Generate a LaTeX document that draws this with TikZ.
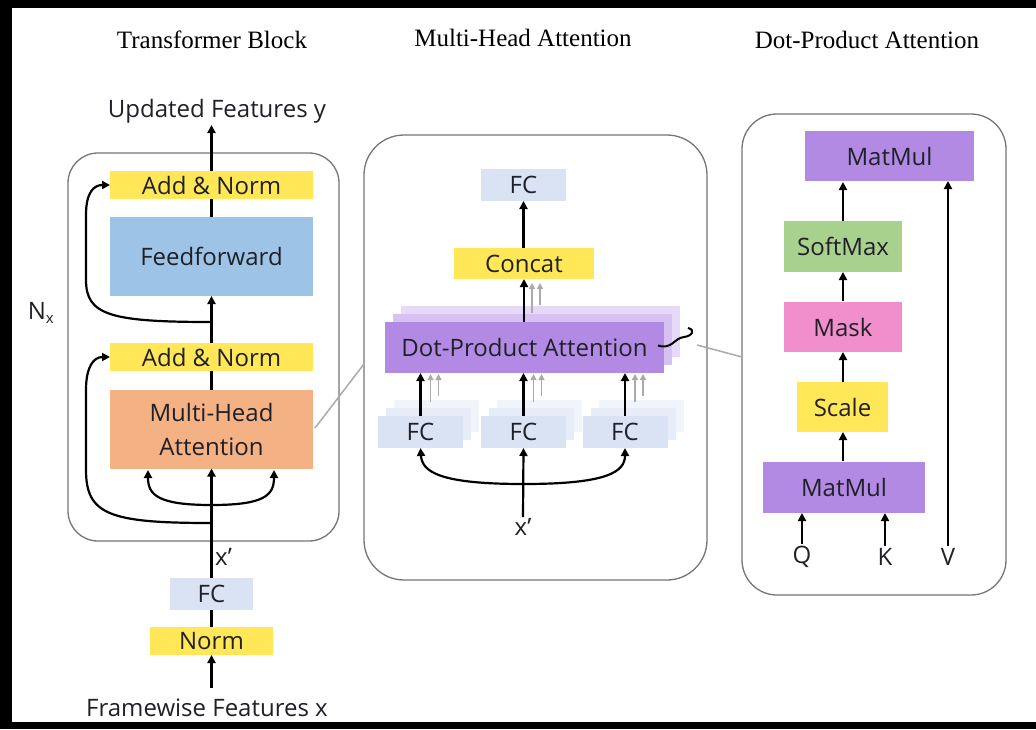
\documentclass[tikz,border=0pt]{standalone}
\usepackage{fontspec}
\setmainfont{Open Sans}
\newfontfamily\titlefont{Liberation Serif}
\usetikzlibrary{arrows.meta}
\definecolor{cyel}{RGB}{255,231,88}
\definecolor{cblue}{RGB}{157,195,230}
\definecolor{corange}{RGB}{244,177,131}
\definecolor{cfc}{RGB}{218,227,243}
\definecolor{cfcA}{RGB}{230,236,248}
\definecolor{cfcB}{RGB}{240,244,251}
\definecolor{cpur}{RGB}{178,138,228}
\definecolor{cpurA}{RGB}{214,194,242}
\definecolor{cpurB}{RGB}{230,218,248}
\definecolor{cgreen}{RGB}{169,209,142}
\definecolor{cpink}{RGB}{241,143,204}
\definecolor{cgray}{RGB}{118,118,118}
\definecolor{cghost}{RGB}{170,170,170}
\definecolor{ctext}{RGB}{32,32,40}
\begin{document}
\begin{tikzpicture}[x=1pt,y=-1pt,
  blk/.style={inner sep=0pt, outer sep=0pt, text=ctext, font=\fontsize{24}{29}\selectfont},
  lbl/.style={inner sep=1pt, text=ctext, font=\fontsize{24}{29}\selectfont},
  ttl/.style={inner sep=0pt, text=black, font=\titlefont\fontsize{25}{28}\selectfont},
  arr/.style={line width=2.2pt, -{Triangle[length=8pt,width=8pt]}},
  ln/.style={line width=2.2pt},
  ghost/.style={line width=1.8pt, draw=cghost, -{Triangle[length=6pt,width=6pt]}},
  panel/.style={draw=cgray, line width=1.3pt},
  zoomline/.style={draw=cghost, line width=1.5pt}]
\useasboundingbox (0,0) rectangle (1036,729);
\fill[white] (0,0) rectangle (1036,729);
\fill[black] (0,0) rectangle (1036,8);
\fill[black] (0,0) rectangle (12,729);
\fill[black] (0,722) rectangle (1036,729);

% titles
\node[ttl] (t1) at (212,40) {Transformer Block};
\node[ttl] (t2) at (523,38) {Multi-Head Attention};
\node[ttl] (t3) at (867,40) {Dot-Product Attention};

% panels
\draw[panel, rounded corners=30pt] (68,153) rectangle (339,541);
\draw[panel, rounded corners=40pt] (364,135) rectangle (707,580);
\draw[panel, rounded corners=35pt] (742,114) rectangle (1006,595);

% ---------- left panel ----------
\node[lbl] (upd) at (217,111) {Updated Features y};
\node[blk, fill=cyel, minimum width=203pt, minimum height=28pt] (an1) at (211.5,185) {Add \& Norm};
\node[blk, fill=cblue, minimum width=203pt, minimum height=79pt] (ff) at (211.5,256.5) {Feedforward};
\node[blk, fill=cyel, minimum width=203pt, minimum height=28pt] (an2) at (211.5,357) {Add \& Norm};
\node[blk, fill=corange, minimum width=203pt, minimum height=79pt, align=center] (mha) at (211.5,429) {Multi-Head\\[5pt]Attention};
\node[blk, fill=cfc, minimum width=83pt, minimum height=32pt] (fc0) at (211.5,594) {FC};
\node[blk, fill=cyel, minimum width=123pt, minimum height=28pt] (norm) at (211.5,641) {Norm};
\node[lbl] (frame) at (207,708) {Framewise Features x};
\node[lbl, anchor=west] (xp0) at (214,557) {x’};
\node[inner sep=0pt, text=ctext, font=\fontsize{24}{29}\selectfont] (nx) at (41,313) {N\textsubscript{\fontsize{15}{15}\selectfont x}};

\draw[arr] (an1.north) -- (an1.north |- 0,125) coordinate (updin);
\draw[ln] (ff.north) -- (an1.south);
\draw[arr] (an2.north) -- (ff.south);
\draw[ln] (mha.north) -- (an2.south);
\draw[arr] (fc0.north) -- (mha.south);
\draw[ln] (norm.north) -- (fc0.south);
\draw[arr] (211.5,688) coordinate (frin) -- (norm.south);

\coordinate (b0) at (211.5,505);
\coordinate (b1) at (211.5,523);
\coordinate (b2) at (211.5,322);
% inner branches to MHA
\draw[arr] (b0) .. controls (158,505) and (148,495) .. (148,470);
\draw[arr] (b0) .. controls (265,505) and (274,495) .. (274,470);
% residual around MHA
\draw[arr] (b1) .. controls (110,523) and (86,515) .. (86,470) -- (86,390) .. controls (86,366) and (94,357) .. (an2.west);
% residual around FF
\draw[arr] (b2) .. controls (110,322) and (86,315) .. (86,280) -- (86,215) .. controls (86,192) and (94,185) .. (an1.west);

% ---------- middle panel ----------
\node[blk, fill=cfc, minimum width=85pt, minimum height=32pt] (fcm) at (523.5,185) {FC};
\node[blk, fill=cyel, minimum width=140pt, minimum height=31pt] (concat) at (524,263.5) {Concat};
\node[blk, fill=cpurB, minimum width=279pt, minimum height=51pt] (dpaS2) at (540.5,331.5) {};
\node[blk, fill=cpurA, minimum width=279pt, minimum height=51pt] (dpaS1) at (532.5,339.5) {};
\node[blk, fill=cpur, minimum width=279pt, minimum height=51pt] (dpa) at (524.5,347.5) {Dot-Product Attention};
\foreach \n/\cx in {fc1/420.5, fc2/523.5, fc3/625}{
  \node[blk, fill=cfcB, minimum width=85pt, minimum height=32pt] (\n S2) at (\cx+16,416) {};
  \node[blk, fill=cfcA, minimum width=85pt, minimum height=32pt] (\n S1) at (\cx+8,424) {};
  \node[blk, fill=cfc, minimum width=85pt, minimum height=32pt] (\n) at (\cx,432) {FC};
}
\node[lbl] (xpm) at (523,527) {x’};

\draw[arr] (fcm.south |- concat.north) -- (fcm.south);
\draw[ghost] (540,305) -- (540,283);
\draw[ghost] (532,313) -- (532,283);
\draw[arr] (concat.south |- dpa.north) -- (concat.south);
\foreach \n in {fc1,fc2,fc3}{
  \draw[ghost] ([xshift=18pt]\n.north) ++(0,-20) -- ++(0,-22);
  \draw[ghost] ([xshift=10pt]\n.north) ++(0,-14) -- ++(0,-28);
  \draw[arr] (\n.north) -- (\n.north |- dpa.south);
}
\coordinate (bm) at (523.5,484);
\draw[arr] (xpm.north) -- (fc2.south);
\draw[arr] (bm) .. controls (440,484) and (422,472) .. (fc1.south);
\draw[arr] (bm) .. controls (607,484) and (625,472) .. (fc3.south);
% hook
\draw[line width=2pt] (dpa.east) ++(-6,-2) coordinate (hk0) .. controls (672,350) and (674,338) .. (684,337) .. controls (692,336) and (696,330) .. (688,328) coordinate (hk1);

% ---------- right panel ----------
\node[blk, fill=cpur, minimum width=169pt, minimum height=50pt] (mm2) at (889.5,156) {MatMul};
\node[blk, fill=cgreen, minimum width=118pt, minimum height=51pt] (soft) at (843,246.5) {SoftMax};
\node[blk, fill=cpink, minimum width=118pt, minimum height=50pt] (mask) at (843,327) {Mask};
\node[blk, fill=cyel, minimum width=91pt, minimum height=50pt] (scale) at (842.5,407) {Scale};
\node[blk, fill=cpur, minimum width=162pt, minimum height=51pt] (mm1) at (844,487) {MatMul};
\node[lbl] (q) at (802,557) {Q};
\node[lbl] (k) at (885,557) {K};
\node[lbl] (v) at (948,557) {V};

\draw[arr] (843,221) -- (843,182);
\draw[arr] (843,301) -- (843,272);
\draw[arr] (843,382) -- (843,352);
\draw[arr] (843,461) -- (843,432);
\draw[arr] (q.north) ++(0,-1) -- (802,513);
\draw[arr] (k.north) ++(0,-1) -- (885,513);
\draw[arr] (v.north) ++(0,-1) -- (948,181);

% zoom connectors
\draw[zoomline] (mha.east) ++(2,-1) -- (364,364);
\draw[zoomline] (697,345) -- (742,357);
\end{tikzpicture}
\end{document}
